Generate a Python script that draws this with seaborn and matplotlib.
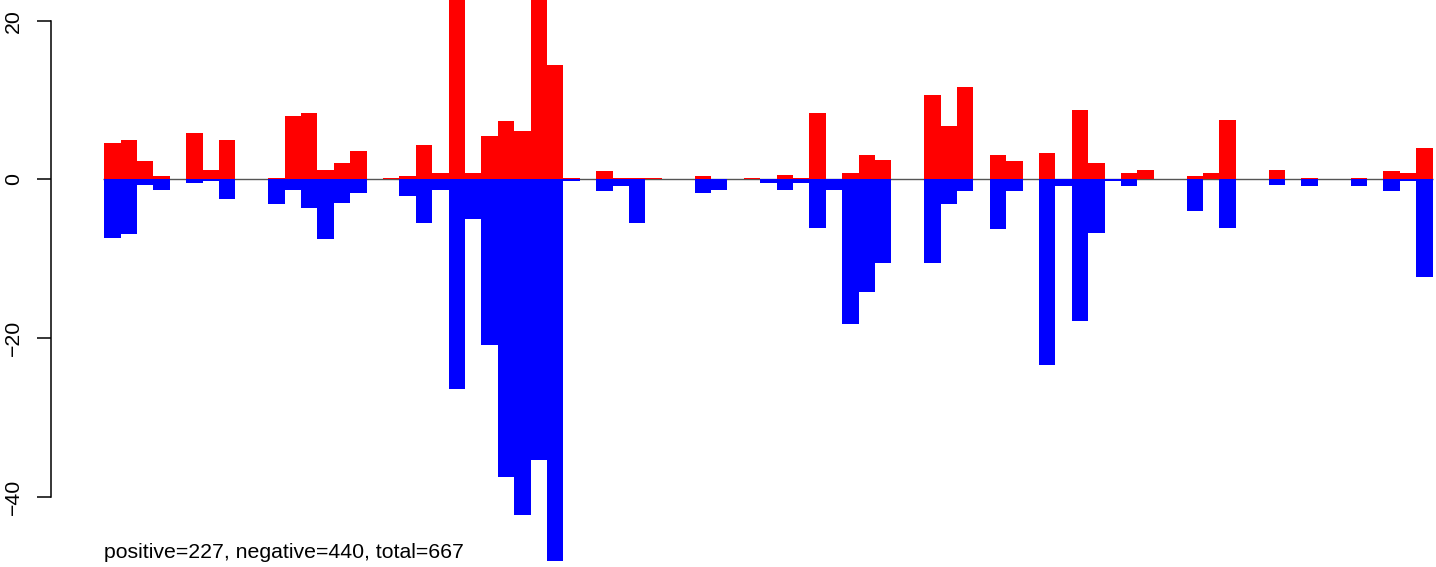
import pandas as pd
import seaborn as sns
import matplotlib.pyplot as plt

# values (bars 21 and 26 run off the top)
positive = [4.58, 4.96, 2.31, 0.42, 0, 5.84, 1.17, 4.96, 0, 0,
            0.16, 7.98, 8.36, 1.17, 2.06, 3.57, 0, 0.16, 0.42, 4.33,
            0.79, 29.0, 0.79, 5.46, 7.35, 6.09, 27.0, 14.4, 0.16, 0,
            1.05, 0.16, 0.16, 0.16, 0, 0, 0.42, 0, 0, 0.16,
            0, 0.54, 0.16, 8.36, 0, 0.79, 3.06, 2.43, 0, 0,
            10.62, 6.72, 11.64, 0, 3.06, 2.31, 0, 3.31, 0, 8.74,
            2.06, 0, 0.79, 1.17, 0, 0, 0.42, 0.79, 7.47, 0,
            0, 1.17, 0, 0.16, 0, 0, 0.16, 0, 1.05, 0.79,
            3.95]
negative = [-7.36, -6.86, -0.68, -1.31, 0, -0.43, -0.17, -2.44, 0, 0,
            -3.07, -1.31, -3.58, -7.49, -2.95, -1.69, 0, 0, -2.1, -5.47,
            -1.31, -26.4, -4.97, -20.86, -37.6, -42.3, -35.4, -48.1, -0.17, 0,
            -1.43, -0.8, -5.47, 0, 0, 0, -1.69, -1.31, 0, 0,
            -0.43, -1.31, -0.43, -6.1, -1.31, -18.25, -14.2, -10.5, 0, 0,
            -10.5, -3.1, -1.47, 0, -6.27, -1.47, 0, -23.4, -0.84, -17.9,
            -6.77, -0.17, -0.8, 0, 0, 0, -3.96, 0, -6.1, 0,
            0, -0.68, 0, -0.8, 0, 0, -0.8, 0, -1.43, -0.17,
            -12.3]
y_ticks = [-40, -20, 0, 20]
y_labels = ["\u221240", "\u221220", "0", "20"]
caption = "positive=227, negative=440, total=667"

df = pd.DataFrame({"bin": range(len(positive)), "pos": positive, "neg": negative})
n = len(df)

plt.rcParams['font.family'] = ['Liberation Sans', 'DejaVu Sans']
fig = plt.figure(figsize=(14.36, 5.67), dpi=100)
# plot region runs past the right edge like the cropped original
ax = fig.add_axes([51 / 1436, 0, 1434.7 / 1436, 1])

ax.hlines(0, -0.55, n - 0.45, color="#555555", linewidth=1.0, zorder=0)
sns.barplot(data=df, x="bin", y="pos", color="#ff0000", saturation=1,
            width=1, linewidth=0, errorbar=None, ax=ax, zorder=2)
sns.barplot(data=df, x="bin", y="neg", color="#0000ff", saturation=1,
            width=1, linewidth=0, errorbar=None, ax=ax, zorder=2)
for p in ax.patches:
    p.set_antialiased(False)

pad = 0.04 * n
ax.set_xlim(-0.5 - pad, n - 0.5 + pad)
ax.set_ylim(-48.89, 22.61)
ax.set_xticks([])
ax.set_xlabel("")
ax.set_ylabel("")
ax.set_yticks(y_ticks)
ax.set_yticklabels(y_labels, rotation=90, va="center")
ax.tick_params(axis="y", length=10, width=1.1, pad=10, labelsize=15.3, color="black")
for s in ["top", "right", "bottom"]:
    ax.spines[s].set_visible(False)
ax.spines["left"].set_bounds(-40, 20)
ax.spines["left"].set_linewidth(1.1)
ax.patch.set_visible(False)

fig.text(104 / 1436, 9 / 567, caption, fontsize=15.3, va="baseline", ha="left")

fig.savefig("out.png", dpi=100)
